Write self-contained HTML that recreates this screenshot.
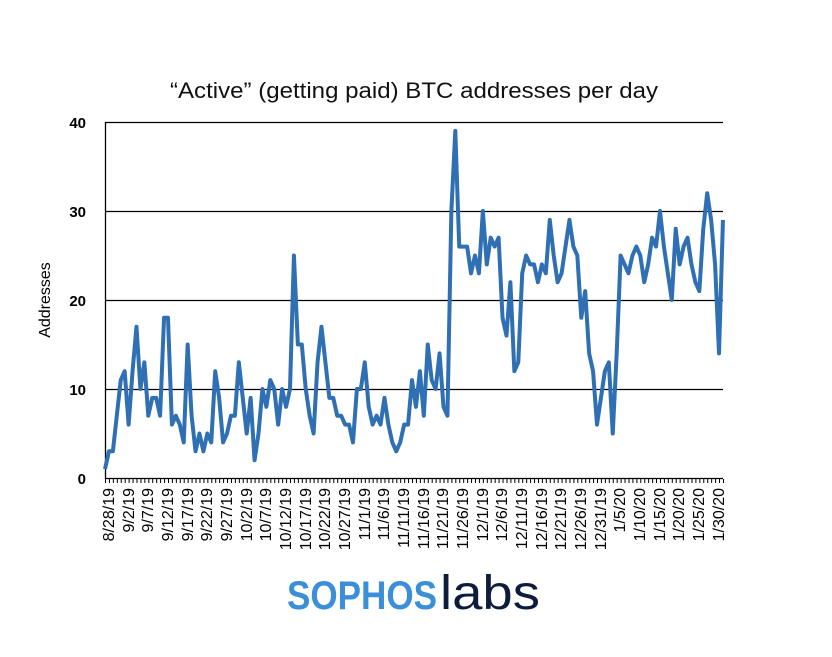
<!DOCTYPE html>
<html><head><meta charset="utf-8"><style>
body{margin:0;background:#fff}
svg{display:block;font-family:"Liberation Sans",sans-serif}
</style></head><body>
<svg width="832" height="657" viewBox="0 0 832 657" xmlns="http://www.w3.org/2000/svg">
<text x="414" y="98" font-size="22" text-anchor="middle" textLength="488" lengthAdjust="spacingAndGlyphs" fill="#111">“Active” (getting paid) BTC addresses per day</text>
<g stroke="#000" stroke-width="1.3">
<line x1="105" y1="122.5" x2="723" y2="122.5"/>
<line x1="105" y1="211.5" x2="723" y2="211.5"/>
<line x1="105" y1="300.5" x2="723" y2="300.5"/>
<line x1="105" y1="389.5" x2="723" y2="389.5"/>
<line x1="105" y1="478.5" x2="723" y2="478.5"/>
<line x1="105.5" y1="122" x2="105.5" y2="479"/>
</g>
<line x1="105" y1="481" x2="724" y2="481" stroke="#000" stroke-width="4" stroke-dasharray="1 2.936"/>
<g font-size="15" font-weight="bold" text-anchor="end" fill="#000">
<text x="86" y="128">40</text><text x="86" y="217">30</text><text x="86" y="306">20</text><text x="86" y="395">10</text><text x="86" y="484">0</text>
</g>
<text transform="translate(50,300) rotate(-90)" font-size="16" text-anchor="middle" fill="#000">Addresses</text>
<polyline transform="translate(105,478) scale(3.936,-8.9)" fill="none" stroke="#2f6fb4" stroke-width="4" stroke-linejoin="round" vector-effect="non-scaling-stroke" points="0,1 1,3 2,3 3,7 4,11 5,12 6,6 7,12 8,17 9,10 10,13 11,7 12,9 13,9 14,7 15,18 16,18 17,6 18,7 19,6 20,4 21,15 22,7 23,3 24,5 25,3 26,5 27,4 28,12 29,9 30,4 31,5 32,7 33,7 34,13 35,9 36,5 37,9 38,2 39,5 40,10 41,8 42,11 43,10 44,6 45,10 46,8 47,10 48,25 49,15 50,15 51,10 52,7 53,5 54,13 55,17 56,13 57,9 58,9 59,7 60,7 61,6 62,6 63,4 64,10 65,10 66,13 67,8 68,6 69,7 70,6 71,9 72,6 73,4 74,3 75,4 76,6 77,6 78,11 79,8 80,12 81,7 82,15 83,11 84,10 85,14 86,8 87,7 88,30 89,39 90,26 91,26 92,26 93,23 94,25 95,23 96,30 97,24 98,27 99,26 100,27 101,18 102,16 103,22 104,12 105,13 106,23 107,25 108,24 109,24 110,22 111,24 112,23 113,29 114,25 115,22 116,23 117,26 118,29 119,26 120,25 121,18 122,21 123,14 124,12 125,6 126,9 127,12 128,13 129,5 130,14 131,25 132,24 133,23 134,25 135,26 136,25 137,22 138,24 139,27 140,26 141,30 142,26 143,23 144,20 145,28 146,24 147,26 148,27 149,24 150,22 151,21 152,28 153,32 154,29 155,24 156,14 157,29"/>
<g font-size="16" text-anchor="end" fill="#000">
<text transform="translate(114,488) rotate(-90)">8/28/19</text>
<text transform="translate(134,488) rotate(-90)">9/2/19</text>
<text transform="translate(153,488) rotate(-90)">9/7/19</text>
<text transform="translate(173,488) rotate(-90)">9/12/19</text>
<text transform="translate(193,488) rotate(-90)">9/17/19</text>
<text transform="translate(212,488) rotate(-90)">9/22/19</text>
<text transform="translate(232,488) rotate(-90)">9/27/19</text>
<text transform="translate(252,488) rotate(-90)">10/2/19</text>
<text transform="translate(271,488) rotate(-90)">10/7/19</text>
<text transform="translate(291,488) rotate(-90)">10/12/19</text>
<text transform="translate(311,488) rotate(-90)">10/17/19</text>
<text transform="translate(330,488) rotate(-90)">10/22/19</text>
<text transform="translate(350,488) rotate(-90)">10/27/19</text>
<text transform="translate(370,488) rotate(-90)">11/1/19</text>
<text transform="translate(389,488) rotate(-90)">11/6/19</text>
<text transform="translate(409,488) rotate(-90)">11/11/19</text>
<text transform="translate(429,488) rotate(-90)">11/16/19</text>
<text transform="translate(448,488) rotate(-90)">11/21/19</text>
<text transform="translate(468,488) rotate(-90)">11/26/19</text>
<text transform="translate(488,488) rotate(-90)">12/1/19</text>
<text transform="translate(507,488) rotate(-90)">12/6/19</text>
<text transform="translate(527,488) rotate(-90)">12/11/19</text>
<text transform="translate(547,488) rotate(-90)">12/16/19</text>
<text transform="translate(566,488) rotate(-90)">12/21/19</text>
<text transform="translate(586,488) rotate(-90)">12/26/19</text>
<text transform="translate(606,488) rotate(-90)">12/31/19</text>
<text transform="translate(625,488) rotate(-90)">1/5/20</text>
<text transform="translate(645,488) rotate(-90)">1/10/20</text>
<text transform="translate(665,488) rotate(-90)">1/15/20</text>
<text transform="translate(684,488) rotate(-90)">1/20/20</text>
<text transform="translate(704,488) rotate(-90)">1/25/20</text>
<text transform="translate(724,488) rotate(-90)">1/30/20</text>
</g>
<text x="287" y="609" font-size="40" font-weight="bold" fill="#3b8fd9" textLength="150" lengthAdjust="spacingAndGlyphs">SOPHOS</text>
<text x="440" y="609" font-size="48" fill="#0e1c3b" textLength="100" lengthAdjust="spacingAndGlyphs">labs</text>
</svg>
</body></html>
